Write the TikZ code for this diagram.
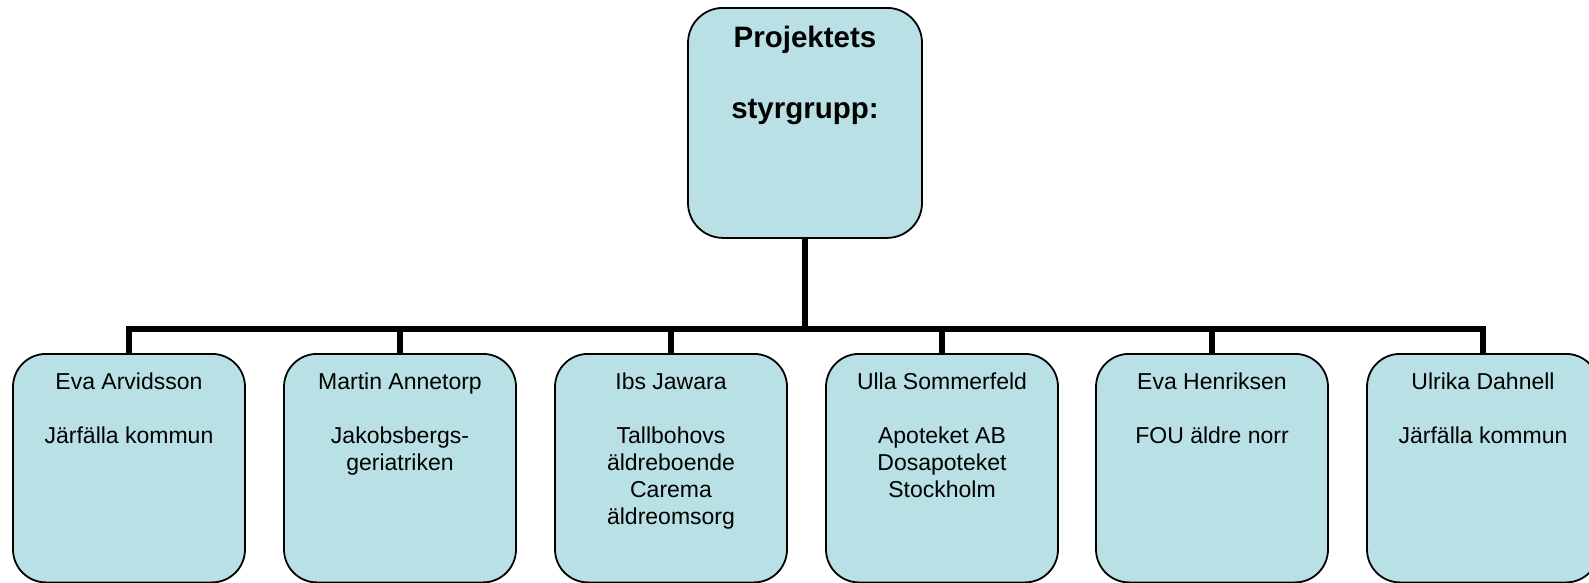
\documentclass[tikz,border=0pt]{standalone}
\usepackage{fontspec}
\setmainfont{Liberation Sans}
\definecolor{boxfill}{RGB}{185,224,228}
\newcommand{\headtext}[1]{\parbox[c][230pt][t]{234pt}{\centering\fontsize{29.5}{35.5}\bfseries\selectfont\vspace*{18pt}#1}}
\newcommand{\membertext}[1]{\parbox[c][228.5pt][t]{232pt}{\centering\fontsize{23}{27}\selectfont\vspace*{19pt}#1}}
\begin{document}
\begin{tikzpicture}[x=1pt, y=-1pt,
    member/.style={draw, line width=1.8pt, fill=boxfill, rounded corners=33pt, inner sep=0pt, anchor=north},
    head/.style={member, rounded corners=35pt},
    link/.style={line width=6pt}]
    \useasboundingbox (0,0) rectangle (1589,582);
    \clip (0,0) rectangle (1589,582);
    \node[head] (styr) at (805,7) {\headtext{Projektets\\[35.5pt]styrgrupp:}};
    \node[member] (eva) at (129,353) {\membertext{Eva Arvidsson\\[27pt]Järfälla kommun}};
    \node[member] (martin) at (400,353) {\membertext{Martin Annetorp\\[27pt]Jakobsbergs-\\geriatriken}};
    \node[member] (ibs) at (671,353) {\membertext{Ibs Jawara\\[27pt]Tallbohovs\\äldreboende\\Carema\\äldreomsorg}};
    \node[member] (ulla) at (942,353) {\membertext{Ulla Sommerfeld\\[27pt]Apoteket AB\\Dosapoteket\\Stockholm}};
    \node[member] (evah) at (1212,353) {\membertext{Eva Henriksen\\[27pt]FOU äldre norr}};
    \node[member] (ulrika) at (1483,353) {\membertext{Ulrika Dahnell\\[27pt]Järfälla kommun}};
    \coordinate (hub) at (styr.south |- 0,329);
    \draw[link] (styr.south) -- (hub);
    \foreach \m in {eva,martin,ibs,ulla,evah,ulrika}
        \draw[link] (hub) -| (\m.north);
\end{tikzpicture}
\end{document}
